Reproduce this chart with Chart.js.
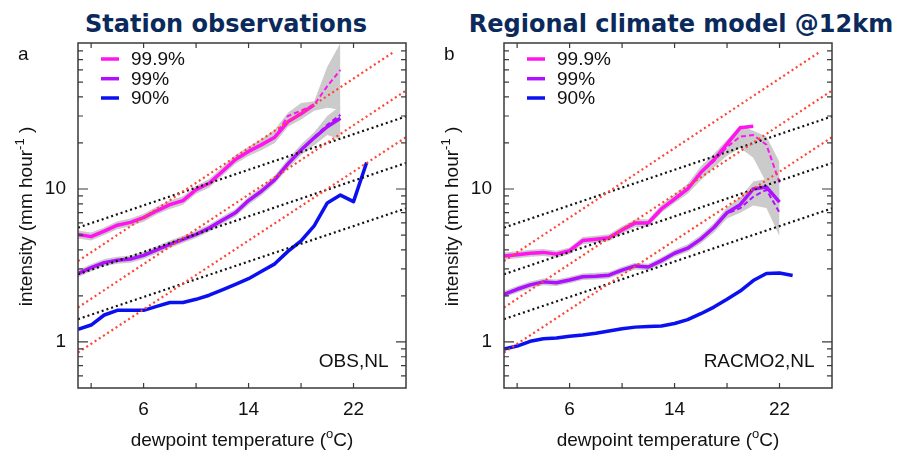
<!DOCTYPE html>
<html>
<head>
<meta charset="utf-8">
<script src="https://cdn.jsdelivr.net/npm/chart.js@4.4.1/dist/chart.umd.min.js"></script>
<style>
  body { margin: 0; background: #fff; width: 898px; height: 454px; position: relative; overflow: hidden; }
  .ttl { position: absolute; top: 10px; line-height: 24px; font: bold 24px 'DejaVu Sans', Verdana, sans-serif;
         color: #0b2a5c; white-space: nowrap; transform: translateX(-50%); }
  #ca { position: absolute; left: 0; top: 0; }
  #cb { position: absolute; left: 426px; top: 0; }
</style>
</head>
<body>
<div class="ttl" style="left:226px">Station observations</div>
<div class="ttl" style="left:681px">Regional climate model @12km</div>
<canvas id="ca" width="449" height="454"></canvas>
<canvas id="cb" width="472" height="454"></canvas>
<script>
// --- ค่าแกน ---
const TEMPS = [1, 2, 3, 4, 5, 6, 7, 8, 9, 10, 11, 12, 13, 14, 15, 16, 17, 18, 19, 20, 21, 22, 23];
const X_TICKS = [2, 6, 10, 14, 18, 22];
const X_LABELS = [6, 14, 22];
const Y_TICKS = [0.6, 0.7, 0.8, 0.9, 1, 2, 3, 4, 5, 6, 7, 8, 9, 10, 20, 30, 40, 50, 60, 70, 80];
const Y_LABELS = [1, 10];
const SERIES_NAMES = ['99.9%', '99%', '90%'];

// --- a: station observations ---
const A_P999 = [5.05, 4.88, 5.3, 5.8, 6.05, 6.5, 7.2, 7.9, 8.4, 9.9, 10.9, 13.0, 15.6, 17.6, 19.5, 21.8, 27.5, 31.0, 35.5];
const A_P999_FIT = [5.05, 4.88, 5.3, 5.8, 6.05, 6.5, 7.2, 7.9, 8.4, 9.9, 10.9, 13.0, 15.6, 17.6, 19.5, 22.0, 30.0, 32.5, 35.5, 47, 60];
const A_P99 = [2.80, 3.06, 3.3, 3.42, 3.48, 3.68, 4.0, 4.35, 4.69, 5.05, 5.55, 6.25, 7.0, 8.4, 9.7, 11.5, 14.6, 18.0, 21.6, 25.5, 29];
const A_P99_FIT = [2.80, 3.06, 3.3, 3.42, 3.48, 3.68, 4.0, 4.35, 4.69, 5.05, 5.55, 6.25, 7.0, 8.4, 9.7, 11.5, 14.6, 18.0, 21.8, 26.3, 30.5];
const A_P90 = [1.21, 1.29, 1.50, 1.61, 1.61, 1.61, 1.71, 1.81, 1.81, 1.90, 2.02, 2.19, 2.38, 2.59, 2.90, 3.24, 3.91, 4.58, 5.74, 8.1, 9.12, 8.26, 14.9];
const A_BAND999_LO = [4.75, 4.6, 5.0, 5.45, 5.7, 6.1, 6.8, 7.4, 7.9, 9.3, 10.2, 12.2, 14.6, 16.4, 18.0, 20.0, 25.5, 28.5, 32.5, 34, 33];
const A_BAND999_HI = [5.35, 5.2, 5.6, 6.15, 6.4, 6.9, 7.65, 8.4, 8.95, 10.5, 11.6, 13.9, 16.7, 18.9, 21.2, 24.5, 31.5, 36.5, 37.5, 63, 90];
const A_BAND99_LO = [2.65, 2.9, 3.12, 3.24, 3.3, 3.48, 3.78, 4.12, 4.44, 4.78, 5.25, 5.9, 6.6, 7.9, 9.1, 10.8, 13.6, 16.6, 19.3, 22.5, 21];
const A_BAND99_HI = [2.95, 3.22, 3.48, 3.6, 3.67, 3.88, 4.22, 4.6, 4.95, 5.33, 5.86, 6.6, 7.4, 8.9, 10.3, 12.3, 15.7, 19.5, 23.5, 30, 35];

// --- b: RACMO2 ---
const B_P999 = [3.65, 3.72, 3.80, 3.85, 3.75, 3.95, 4.6, 4.7, 4.8, 5.4, 6.0, 6.0, 7.4, 8.6, 10.0, 12.8, 15.5, 19.7, 25.1, 25.7];
const B_P999_FIT = [3.65, 3.72, 3.80, 3.85, 3.75, 3.95, 4.6, 4.7, 4.8, 5.4, 6.0, 6.0, 7.4, 8.6, 10.0, 12.8, 15.2, 18.8, 22.0, 22.5, 19.5, 11.0];
const B_P99 = [2.05, 2.21, 2.36, 2.47, 2.44, 2.54, 2.67, 2.69, 2.73, 2.95, 3.14, 3.09, 3.40, 3.80, 4.10, 4.70, 5.6, 7.0, 7.9, 10.0, 10.3, 8.2];
const B_P99_FIT = [2.05, 2.21, 2.36, 2.47, 2.44, 2.54, 2.67, 2.69, 2.73, 2.95, 3.14, 3.09, 3.40, 3.80, 4.10, 4.70, 5.6, 6.9, 7.5, 8.9, 9.9, 7.0];
const B_P90 = [0.90, 0.94, 1.01, 1.05, 1.06, 1.09, 1.11, 1.14, 1.18, 1.22, 1.25, 1.26, 1.27, 1.32, 1.40, 1.53, 1.69, 1.90, 2.15, 2.52, 2.80, 2.82, 2.72];
const B_BAND999_LO = [3.45, 3.52, 3.6, 3.65, 3.55, 3.75, 4.35, 4.45, 4.55, 5.1, 5.65, 5.65, 7.0, 8.1, 9.3, 11.4, 13.8, 16.5, 18.5, 16.0, 11.0, 7.0];
const B_BAND999_HI = [3.85, 3.92, 4.0, 4.05, 3.95, 4.15, 4.85, 4.95, 5.05, 5.7, 6.35, 6.35, 7.9, 9.2, 10.8, 14.0, 17.0, 21.0, 26.0, 24.0, 22.0, 15.0];
const B_BAND99_LO = [1.95, 2.1, 2.24, 2.35, 2.32, 2.42, 2.54, 2.56, 2.6, 2.8, 2.98, 2.94, 3.22, 3.6, 3.88, 4.4, 5.2, 6.4, 7.0, 7.8, 7.5, 4.9];
const B_BAND99_HI = [2.15, 2.32, 2.48, 2.6, 2.56, 2.67, 2.8, 2.83, 2.87, 3.1, 3.3, 3.25, 3.58, 4.0, 4.35, 5.0, 6.0, 7.6, 8.8, 11.2, 11.6, 10.0];

// --- เส้นอ้างอิง (จุดปลายสองจุด: [อุณหภูมิ, ค่า]) ---
const REF_RED = [[[1, 3.38], [25, 78]], [[1, 1.68], [26, 44]], [[1, 0.853], [26, 21.8]]];
const REF_BLACK = [[[1, 5.59], [26, 29.8]], [[1, 2.77], [26, 14.8]], [[1, 1.41], [26, 7.47]]];

const COL_999 = '#ff14f0';
const COL_99 = '#b010ff';
const COL_90 = '#0a10f0';
const COL_BAND = '#cbcbcb';
const COL_RED = '#ff4434';
const FONT = "'Liberation Sans', Arial, sans-serif";

function pts(values) {
    return values.map((v, i) => ({ x: TEMPS[i], y: v }));
}

function band(lo, hi) {
    return [
        { data: pts(lo), borderColor: 'rgba(0,0,0,0)', borderWidth: 0, pointRadius: 0, fill: false, order: 4 },
        { data: pts(hi), borderColor: 'rgba(0,0,0,0)', borderWidth: 0, pointRadius: 0, backgroundColor: COL_BAND, order: 4 }
    ];
}

function solid(values, color) {
    return { data: pts(values), borderColor: color, borderWidth: 3.5, pointRadius: 0, fill: false, order: 2, borderJoinStyle: 'round' };
}

function dashed(values, color) {
    return { data: pts(values), borderColor: color, borderWidth: 2, borderDash: [5, 3], pointRadius: 0, fill: false, order: 1 };
}

function refLine(seg, color) {
    return { data: seg.map(p => ({ x: p[0], y: p[1] })), borderColor: color, borderWidth: 2.2,
             borderDash: [2, 3], pointRadius: 0, fill: false, order: 0 };
}

// ข้อความที่มีตัวยก
function richText(ctx, parts, x, y) {
    let total = 0;
    parts.forEach(p => {
        ctx.font = (p.sup ? 13 : 19) + 'px ' + FONT;
        p.w = ctx.measureText(p.t).width;
        total += p.w;
    });
    let cx = x - total / 2;
    ctx.textAlign = 'left';
    ctx.textBaseline = 'alphabetic';
    parts.forEach(p => {
        ctx.font = (p.sup ? 13 : 19) + 'px ' + FONT;
        ctx.fillText(p.t, cx, p.sup ? y - 8 : y);
        cx += p.w;
    });
}

const decor = {
    id: 'decor',
    afterDatasetsDraw(chart, args, opt) {
        const ctx = chart.ctx;
        const a = chart.chartArea;
        const xs = chart.scales.x, ys = chart.scales.y;
        ctx.save();
        // กรอบ
        ctx.strokeStyle = '#3a3a3a';
        ctx.lineWidth = 1.5;
        ctx.strokeRect(a.left, a.top, a.right - a.left, a.bottom - a.top);
        ctx.lineWidth = 1.2;
        ctx.beginPath();
        xs.ticks.forEach(t => {
            const px = xs.getPixelForValue(t.value);
            ctx.moveTo(px, a.bottom); ctx.lineTo(px, a.bottom - 5);
            ctx.moveTo(px, a.top); ctx.lineTo(px, a.top + 5);
        });
        ys.ticks.forEach(t => {
            const py = ys.getPixelForValue(t.value);
            const len = Y_LABELS.includes(t.value) ? 10 : 5;
            ctx.moveTo(a.left, py); ctx.lineTo(a.left + len, py);
            ctx.moveTo(a.right, py); ctx.lineTo(a.right - len, py);
        });
        ctx.stroke();

        // legend
        const cols = [COL_999, COL_99, COL_90];
        const rowY = [16, 35.7, 55];
        SERIES_NAMES.forEach((name, i) => {
            const y = a.top + rowY[i];
            ctx.strokeStyle = cols[i];
            ctx.lineWidth = 3.5;
            ctx.beginPath();
            ctx.moveTo(a.left + 23, y); ctx.lineTo(a.left + 41, y);
            ctx.stroke();
            ctx.fillStyle = '#111';
            ctx.font = '19px ' + FONT;
            ctx.textAlign = 'left';
            ctx.textBaseline = 'middle';
            ctx.fillText(name, a.left + 53, y + 1);
        });

        // ตัวอักษรแผง และชื่อชุดข้อมูล
        ctx.fillStyle = '#111';
        ctx.font = '19px ' + FONT;
        ctx.textBaseline = 'alphabetic';
        ctx.textAlign = 'left';
        ctx.fillText(opt.letter, 18, 60);
        ctx.textAlign = 'right';
        ctx.fillText(opt.tag, a.right - 17.5, 366.5);

        // ชื่อแกน
        richText(ctx, [{ t: 'dewpoint temperature (' }, { t: 'o', sup: true }, { t: 'C)' }], (a.left + a.right) / 2, 446);
        ctx.save();
        ctx.translate(31.5, 216.5);
        ctx.rotate(-Math.PI / 2);
        richText(ctx, [{ t: 'intensity (mm hour' }, { t: '-1', sup: true }, { t: ' )' }], 0, 0);
        ctx.restore();
        ctx.restore();
    }
};

function makeChart(canvas, panel) {
    const datasets = [
        ...band(panel.band999[0], panel.band999[1]),
        ...band(panel.band99[0], panel.band99[1]),
        solid(panel.p999, COL_999),
        solid(panel.p99, COL_99),
        solid(panel.p90, COL_90),
        dashed(panel.p999fit, COL_999),
        dashed(panel.p99fit, COL_99),
        ...REF_RED.map(s => refLine(s, COL_RED)),
        ...REF_BLACK.map(s => refLine(s, '#111'))
    ];
    datasets[1].fill = 0;
    datasets[3].fill = 2;

    return new Chart(canvas, {
        type: 'line',
        data: { datasets },
        plugins: [decor],
        options: {
            responsive: false,
            animation: false,
            devicePixelRatio: 1,
            layout: { padding: { left: 0, top: 43, right: canvas.width - 406, bottom: 0 } },
            plugins: {
                legend: { display: false },
                tooltip: { enabled: false },
                decor: { letter: panel.letter, tag: panel.tag }
            },
            scales: {
                x: {
                    type: 'linear', min: 1, max: 26,
                    afterBuildTicks: s => { s.ticks = X_TICKS.map(v => ({ value: v })); },
                    afterFit: s => { s.height = 66; },
                    grid: { display: false, drawTicks: false },
                    border: { display: false },
                    ticks: {
                        autoSkip: false, maxRotation: 0, padding: 10.5, color: '#111',
                        font: { family: FONT, size: 19 },
                        callback: v => X_LABELS.includes(v) ? String(v) : ''
                    }
                },
                y: {
                    type: 'logarithmic', min: 0.5, max: 90,
                    afterBuildTicks: s => { s.ticks = Y_TICKS.map(v => ({ value: v })); },
                    afterFit: s => { s.width = 78; },
                    grid: { display: false, drawTicks: false },
                    border: { display: false },
                    ticks: {
                        autoSkip: false, padding: 12, color: '#111',
                        font: { family: FONT, size: 19 },
                        callback: v => Y_LABELS.includes(v) ? String(v) : ''
                    }
                }
            }
        }
    });
}

makeChart(document.getElementById('ca'), {
    letter: 'a', tag: 'OBS,NL',
    p999: A_P999, p999fit: A_P999_FIT, p99: A_P99, p99fit: A_P99_FIT, p90: A_P90,
    band999: [A_BAND999_LO, A_BAND999_HI], band99: [A_BAND99_LO, A_BAND99_HI]
});
makeChart(document.getElementById('cb'), {
    letter: 'b', tag: 'RACMO2,NL',
    p999: B_P999, p999fit: B_P999_FIT, p99: B_P99, p99fit: B_P99_FIT, p90: B_P90,
    band999: [B_BAND999_LO, B_BAND999_HI], band99: [B_BAND99_LO, B_BAND99_HI]
});
</script>
</body>
</html>
